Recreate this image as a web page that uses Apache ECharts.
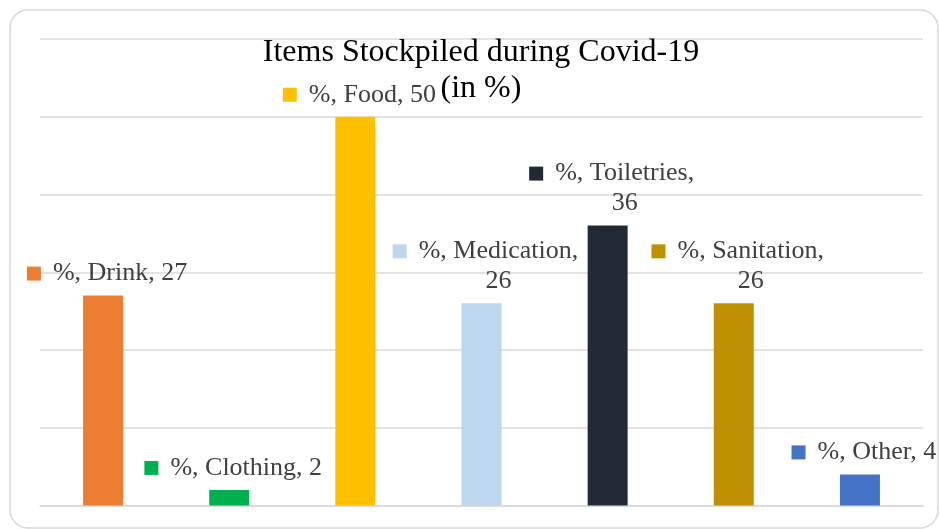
<!DOCTYPE html>
<html>
<head>
<meta charset="utf-8">
<script src="https://cdn.jsdelivr.net/npm/echarts@6/dist/echarts.min.js"></script>
<style>
  html, body { margin: 0; padding: 0; background: #fff; }
  #chart { width: 939px; height: 529px; }
</style>
</head>
<body>
<div id="chart"></div>
<script>
// Share of respondents stockpiling each item type (%)
const categories = ['Drink', 'Clothing', 'Food', 'Medication', 'Toiletries', 'Sanitation', 'Other'];
const values = [27, 2, 50, 26, 36, 26, 4];
const seriesName = '%';

// Bar fill per category
const palette = ['#ED7D31', '#00B050', '#FFC000', '#BDD7EE', '#222A35', '#BF9000', '#4472C4'];
// Labels that break after the category name
const wrapped = new Set(['Medication', 'Toiletries', 'Sanitation']);

const serif = '"Liberation Serif", "Times New Roman", serif';
const textColor = '#404040';

function labelFor(i) {
  const name = categories[i];
  const v = values[i];
  const text = wrapped.has(name)
    ? '{sq|}{g|}{t|' + seriesName + ', ' + name + ',}\n{v|' + v + '}'
    : '{sq|}{g|}{t|' + seriesName + ', ' + name + ', ' + v + '}';
  return {
    show: true,
    position: 'top',
    distance: 7,
    offset: [4, 0],
    formatter: text,
    rich: {
      sq: { width: 14, height: 14, backgroundColor: palette[i] },
      g: { width: 12 },
      t: { fontFamily: serif, fontSize: 26, color: textColor, lineHeight: 30 },
      v: { fontFamily: serif, fontSize: 26, color: textColor, lineHeight: 30, padding: [0, 0, 0, 26] }
    }
  };
}

const chart = echarts.init(document.getElementById('chart'), null, { renderer: 'canvas' });

chart.setOption({
  animation: false,
  backgroundColor: '#fff',
  title: {
    text: 'Items Stockpiled during Covid-19\n(in %)',
    left: 481,
    textAlign: 'center',
    top: 35,
    padding: 0,
    textStyle: {
      fontFamily: serif,
      fontSize: 32,
      fontWeight: 'normal',
      color: '#000',
      lineHeight: 36
    }
  },
  graphic: [{
    type: 'rect',
    silent: true,
    z: -10,
    shape: { x: 10, y: 10, width: 928, height: 518, r: 18 },
    style: { fill: 'none', stroke: '#d9d9d9', lineWidth: 1.5 }
  }],
  grid: { left: 40, right: 16, top: 39, bottom: 23.5 },
  xAxis: {
    type: 'category',
    data: categories,
    axisLine: { show: true, lineStyle: { color: '#d9d9d9', width: 1.5 } },
    axisTick: { show: false },
    axisLabel: { show: false }
  },
  yAxis: {
    type: 'value',
    min: 0,
    max: 60,
    interval: 10,
    axisLine: { show: false },
    axisTick: { show: false },
    axisLabel: { show: false },
    splitLine: { lineStyle: { color: '#d9d9d9', width: 1.5 } }
  },
  series: [{
    name: seriesName,
    type: 'bar',
    barWidth: 40,
    data: values.map((v, i) => ({
      value: v,
      itemStyle: { color: palette[i] },
      label: labelFor(i)
    }))
  }]
});
</script>
</body>
</html>
